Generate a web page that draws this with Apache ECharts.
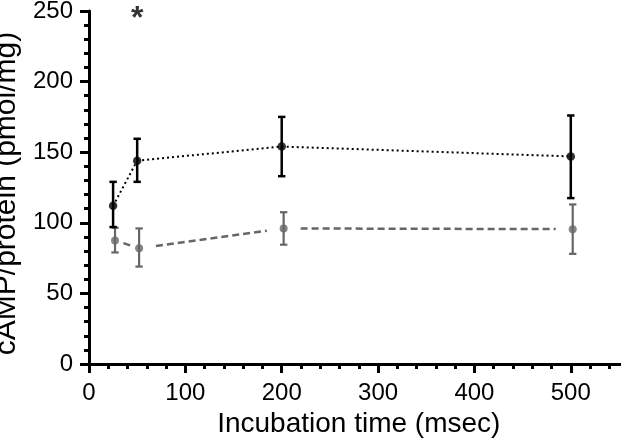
<!DOCTYPE html>
<html>
<head>
<meta charset="utf-8">
<script src="https://cdn.jsdelivr.net/npm/echarts@6/dist/echarts.min.js"></script>
<style>html,body{margin:0;padding:0;background:#fff;}#c{width:621px;height:447px;}</style>
</head>
<body>
<div id="c"></div>
<script>
// ---- data ----
const timesBlack = [25, 50, 200, 500];
const meanBlack  = [112, 144, 154, 147];
const lowBlack   = [97, 129, 133, 117.5];
const highBlack  = [129, 159.5, 175, 176];

const timesGray  = [27, 52, 202, 502];
const meanGray   = [87.5, 82, 96, 95.5];
const lowGray    = [79, 69, 84.5, 78];
const highGray   = [96.5, 96, 107.5, 113];

const starLabel = ['*'];
const starPos = [[50, 244.5]];

const xTitle = 'Incubation time (msec)';
const yTitle = 'cAMP/protein (pmol/mg)';

const FONT = '"Liberation Sans", Arial, sans-serif';
const BLACK = '#000000';
const GRAY = '#666666';

function pts(xs, ys) { return xs.map((x, i) => [x, ys[i]]); }
function bars(xs, lo, hi) { return xs.map((x, i) => [x, lo[i], hi[i]]); }
function segs(xs, ys) {
  const out = [];
  for (let i = 0; i < xs.length - 1; i++) out.push([xs[i], ys[i], xs[i + 1], ys[i + 1]]);
  return out;
}

function errorRender(color, width, cap) {
  return function (params, api) {
    const x = api.value(0);
    const a = api.coord([x, api.value(1)]);
    const b = api.coord([x, api.value(2)]);
    const st = { stroke: color, lineWidth: width };
    return {
      type: 'group',
      children: [
        { type: 'line', shape: { x1: a[0], y1: a[1], x2: b[0], y2: b[1] }, style: st },
        { type: 'line', shape: { x1: a[0] - cap, y1: a[1], x2: a[0] + cap, y2: a[1] }, style: st },
        { type: 'line', shape: { x1: b[0] - cap, y1: b[1], x2: b[0] + cap, y2: b[1] }, style: st }
      ]
    };
  };
}

function segRender(color, width, dash, gap) {
  return function (params, api) {
    const p1 = api.coord([api.value(0), api.value(1)]);
    const p2 = api.coord([api.value(2), api.value(3)]);
    const dx = p2[0] - p1[0], dy = p2[1] - p1[1];
    const len = Math.sqrt(dx * dx + dy * dy);
    const g = Math.min(gap, len * 0.35);
    const ux = dx / len, uy = dy / len;
    return {
      type: 'line',
      shape: { x1: p1[0] + ux * g, y1: p1[1] + uy * g, x2: p2[0] - ux * g, y2: p2[1] - uy * g },
      style: { stroke: color, lineWidth: width, lineDash: dash }
    };
  };
}

const chart = echarts.init(document.getElementById('c'), null, { renderer: 'canvas' });
chart.setOption({
  animation: false,
  backgroundColor: '#ffffff',
  textStyle: { fontFamily: FONT },
  grid: { left: 89, right: -7.6, top: 11, bottom: 83, containLabel: false, outerBoundsMode: 'none' },
  xAxis: [{
    type: 'value', min: 0, max: 560, interval: 100,
    name: xTitle, nameLocation: 'middle', nameGap: 44,
    nameTextStyle: { fontSize: 28, color: BLACK, fontFamily: FONT },
    axisLine: { show: true, onZero: false, lineStyle: { color: BLACK, width: 3 } },
    axisTick: { show: true, length: 9, lineStyle: { color: BLACK, width: 3 } },
    axisLabel: { fontSize: 24, color: BLACK, margin: 17, showMaxLabel: false, fontFamily: FONT },
    splitLine: { show: false }
  }, {
    type: 'value', min: 0, max: 560, interval: 20, position: 'bottom',
    axisLine: { show: false },
    axisTick: { show: true, length: 5, lineStyle: { color: BLACK, width: 3 } },
    axisLabel: { show: false },
    splitLine: { show: false }
  }],
  yAxis: [{
    type: 'value', min: 0, max: 250, interval: 50,
    name: yTitle, nameLocation: 'middle', nameGap: 51, nameRotate: 90,
    nameTextStyle: { fontSize: 30, color: BLACK, fontFamily: FONT, padding: [0, 12, 0, 0] },
    axisLine: { show: true, onZero: false, lineStyle: { color: BLACK, width: 3 } },
    axisTick: { show: true, length: 9, lineStyle: { color: BLACK, width: 3 } },
    minorTick: { show: true, splitNumber: 5, length: 5, lineStyle: { color: BLACK, width: 3 } },
    axisLabel: { fontSize: 24, color: BLACK, margin: 16, fontFamily: FONT },
    splitLine: { show: false }
  }],
  series: [
    {
      type: 'custom', name: 'grayLine', xAxisIndex: 0, yAxisIndex: 0,
      renderItem: segRender(GRAY, 2.5, [7, 4], 17),
      encode: { x: [0, 2], y: [1, 3] },
      data: segs(timesGray, meanGray), z: 2, clip: false
    },
    {
      type: 'custom', name: 'grayErr',
      renderItem: errorRender(GRAY, 2.2, 3.7),
      encode: { x: 0, y: [1, 2] },
      data: bars(timesGray, lowGray, highGray), z: 3, clip: false
    },
    {
      type: 'scatter', name: 'grayPts', symbol: 'circle', symbolSize: 8,
      itemStyle: { color: GRAY }, data: pts(timesGray, meanGray), z: 4
    },
    {
      type: 'custom', name: 'blackLine',
      renderItem: segRender(BLACK, 2, [2, 3], 0),
      encode: { x: [0, 2], y: [1, 3] },
      data: segs(timesBlack, meanBlack), z: 5, clip: false
    },
    {
      type: 'custom', name: 'blackErr',
      renderItem: errorRender(BLACK, 2.5, 3.7),
      encode: { x: 0, y: [1, 2] },
      data: bars(timesBlack, lowBlack, highBlack), z: 6, clip: false
    },
    {
      type: 'scatter', name: 'blackPts', symbol: 'circle', symbolSize: 8.5,
      itemStyle: { color: BLACK }, data: pts(timesBlack, meanBlack), z: 7
    },
    {
      type: 'scatter', name: 'star', symbolSize: 1, itemStyle: { color: 'rgba(0,0,0,0)' },
      data: starPos,
      label: {
        show: true, position: 'inside', formatter: () => starLabel[0],
        fontSize: 32, fontWeight: 'bold', color: BLACK, fontFamily: FONT
      },
      z: 8
    }
  ]
});
</script>
</body>
</html>
